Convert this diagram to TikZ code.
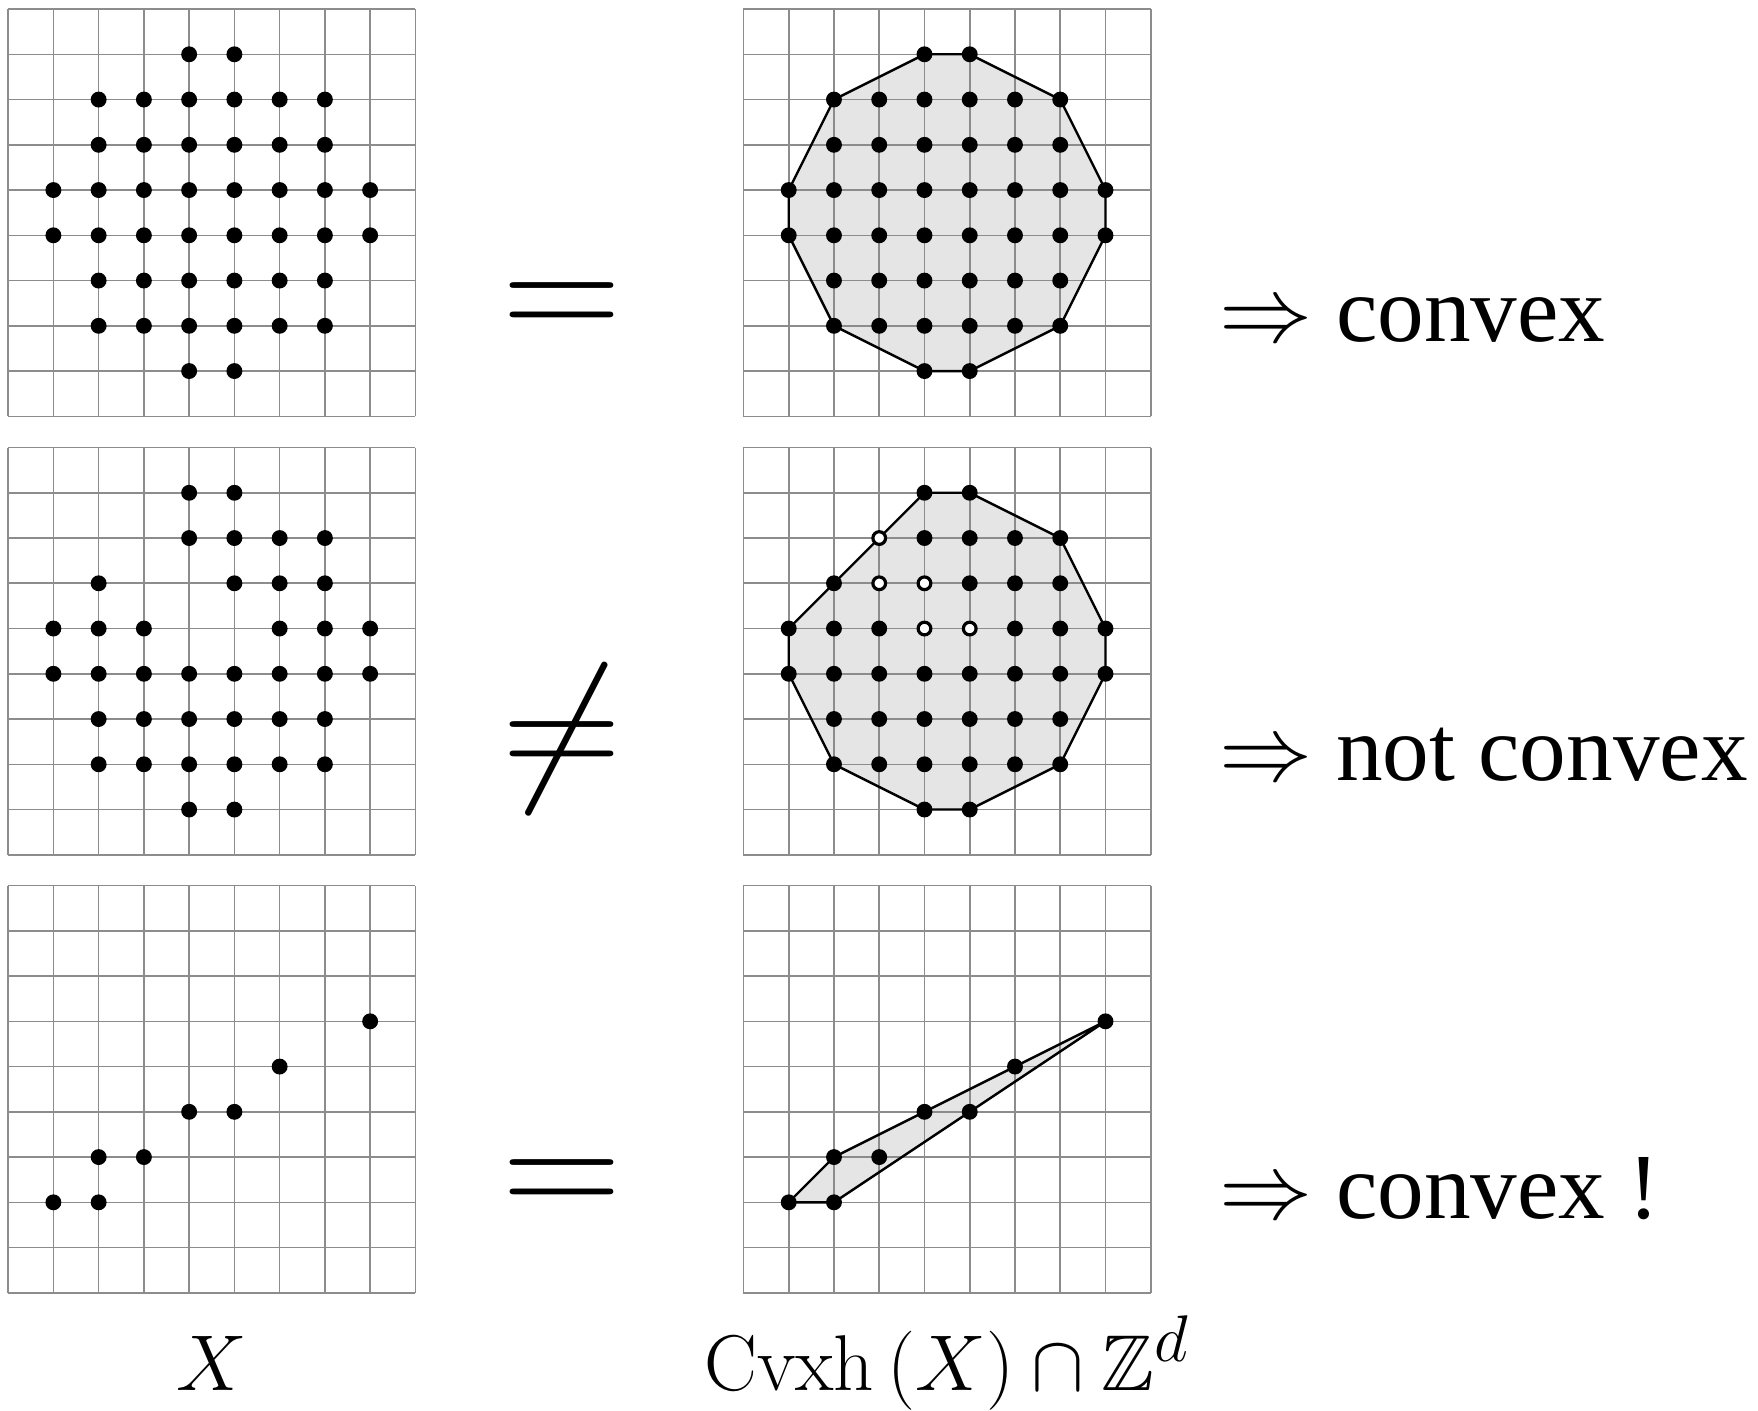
\RequirePackage{fix-cm}
\documentclass[tikz,border=0pt]{standalone}
\usepackage{amsmath, amssymb}
\usepackage[no-math]{fontspec}
\setmainfont{Liberation Serif}
\usepackage{tikz}
\usetikzlibrary{calc}

% lattice points of the second (non convex) set
\newcommand{\holeset}{4/8,5/8, 4/7,5/7,6/7,7/7, 2/6,5/6,6/6,7/6, 1/5,2/5,3/5,6/5,7/5,8/5,
  1/4,2/4,3/4,4/4,5/4,6/4,7/4,8/4, 2/3,3/3,4/3,5/3,6/3,7/3, 2/2,3/2,4/2,5/2,6/2,7/2, 4/1,5/1}
\newcommand{\lineset}{1/2,2/2,2/3,3/3,4/4,5/4,6/5,8/6}

\begin{document}
\begin{tikzpicture}[x=0.5cm, y=0.5cm,
  lattice/.style={draw=black!45, line width=0.5pt, step=0.5cm},
  hullfill/.style={fill=black!10},
  hull/.style={draw=black, line width=0.75pt, line join=round},
  hole/.style={draw=black, fill=white, line width=1pt},
  relsym/.style={anchor=base, inner sep=0pt, font=\fontsize{52}{62}\selectfont},
  verdict/.style={anchor=base west, inner sep=0pt, font=\fontsize{29.3}{35}\selectfont},
  caption/.style={anchor=base, inner sep=0pt, font=\Huge}]
  \useasboundingbox (-0.18,0.2) rectangle (38.67,-30.98);

  % Row 1: convex set
  \begin{scope}[shift={(0,-9)}]
    \draw[lattice] (0,0) grid (9,9);
    \foreach \y/\a/\b in {8/4/5, 7/2/7, 6/2/7, 5/1/8, 4/1/8, 3/2/7, 2/2/7, 1/4/5}
      \foreach \x in {\a,...,\b} \fill (\x,\y) circle (2.5pt);
  \end{scope}
  \begin{scope}[shift={(16.25,-9)}]
    \fill[hullfill] (4,8) -- (5,8) -- (7,7) -- (8,5) -- (8,4) -- (7,2) -- (5,1) -- (4,1)
      -- (2,2) -- (1,4) -- (1,5) -- (2,7) -- cycle;
    \draw[lattice] (0,0) grid (9,9);
    \draw[hull] (4,8) -- (5,8) -- (7,7) -- (8,5) -- (8,4) -- (7,2) -- (5,1) -- (4,1)
      -- (2,2) -- (1,4) -- (1,5) -- (2,7) -- cycle;
    \foreach \y/\a/\b in {8/4/5, 7/2/7, 6/2/7, 5/1/8, 4/1/8, 3/2/7, 2/2/7, 1/4/5}
      \foreach \x in {\a,...,\b} \fill (\x,\y) circle (2.5pt);
  \end{scope}
  \node[relsym] (eqtop) at (12.24,-7.35) {$=$};
  \node[verdict] (vtop) at (26.76,-7.35) {$\Rightarrow$ convex};

  % Row 2: set with a hole
  \begin{scope}[shift={(0,-18.69)}]
    \draw[lattice] (0,0) grid (9,9);
    \foreach \x/\y in \holeset \fill (\x,\y) circle (2.5pt);
  \end{scope}
  \begin{scope}[shift={(16.25,-18.69)}]
    \fill[hullfill] (4,8) -- (5,8) -- (7,7) -- (8,5) -- (8,4) -- (7,2) -- (5,1) -- (4,1)
      -- (2,2) -- (1,4) -- (1,5) -- cycle;
    \draw[lattice] (0,0) grid (9,9);
    \draw[hull] (4,8) -- (5,8) -- (7,7) -- (8,5) -- (8,4) -- (7,2) -- (5,1) -- (4,1)
      -- (2,2) -- (1,4) -- (1,5) -- cycle;
    \foreach \x/\y in \holeset \fill (\x,\y) circle (2.5pt);
    \foreach \x/\y in {3/7, 3/6, 4/6, 4/5, 5/5} \filldraw[hole] (\x,\y) circle (2pt);
  \end{scope}
  \node[relsym] (neqmid) at (12.24,-17.04) {$\neq$};
  \node[verdict] (vmid) at (26.76,-17.04) {$\Rightarrow$ not convex};

  % Row 3: points on a thin strip
  \begin{scope}[shift={(0,-28.37)}]
    \draw[lattice] (0,0) grid (9,9);
    \foreach \x/\y in \lineset \fill (\x,\y) circle (2.5pt);
  \end{scope}
  \begin{scope}[shift={(16.25,-28.37)}]
    \fill[hullfill] (1,2) -- (2,2) -- (8,6) -- (2,3) -- cycle;
    \draw[lattice] (0,0) grid (9,9);
    \draw[hull] (1,2) -- (2,2) -- (8,6) -- (2,3) -- cycle;
    \foreach \x/\y in \lineset \fill (\x,\y) circle (2.5pt);
  \end{scope}
  \node[relsym] (eqbot) at (12.24,-26.72) {$=$};
  \node[verdict] (vbot) at (26.76,-26.72) {$\Rightarrow$ convex !};

  % Captions
  \node[caption] (capX) at (4.5,-30.53) {$X$};
  \node[caption] (caphull) at (20.75,-30.53) {$\mathrm{Cvxh}\left(X\right)\cap\mathbb{Z}^d$};
\end{tikzpicture}
\end{document}
